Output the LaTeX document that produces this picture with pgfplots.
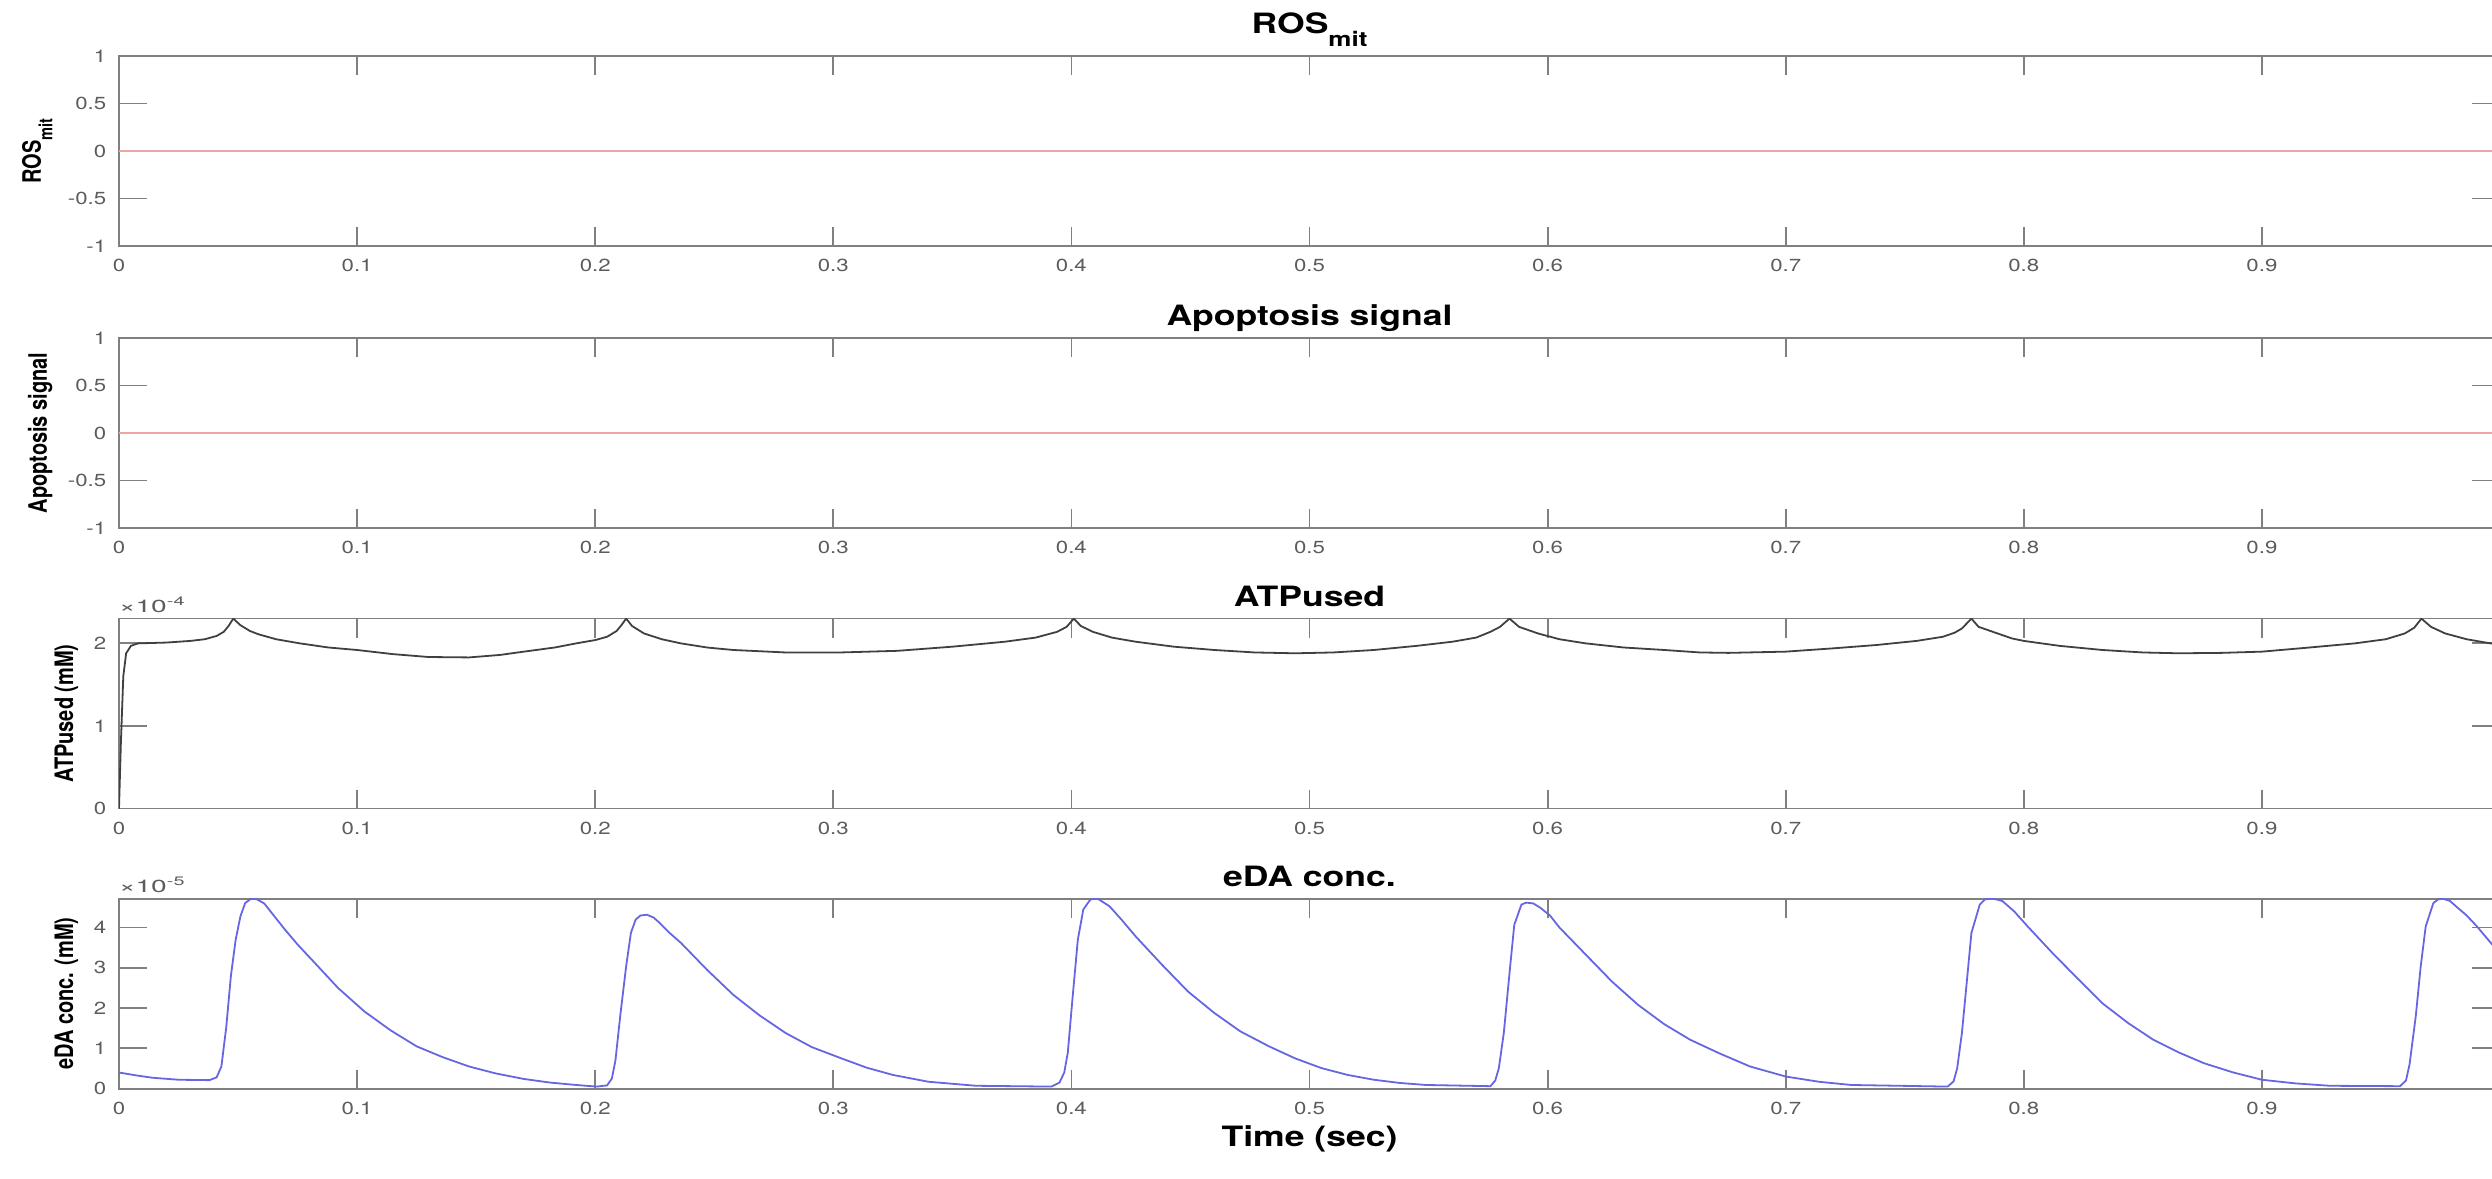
\documentclass[border=0pt]{standalone}
\usepackage{pgfplots}
\usepackage{pgfplotstable}
\pgfplotsset{compat=1.18}
\usepackage{fontspec}
\usepackage{graphicx}
\setmainfont{TeX Gyre Heros}

\definecolor{axisgray}{gray}{0.5}
\definecolor{labelgray}{gray}{0.36}
\definecolor{rosred}{rgb}{0.94,0.64,0.64}
\definecolor{edablue}{rgb}{0.40,0.40,0.90}
\definecolor{atpblack}{gray}{0.25}

% lettering is set a little wide
\newcommand\hs[1]{\scalebox{1.27}[1]{#1}}
\newcommand\vs[1]{\scalebox{1}[1.27]{#1}}
\newcommand\lowsub[1]{\raisebox{-0.45em}{\scalebox{0.73}{#1}}}

% ATP used (mM)
\pgfplotstableread{
t      atp
0      0
0.0008 0.8e-4
0.0018 1.6e-4
0.003  1.88e-4
0.005  1.97e-4
0.008  2.0e-4
0.02   2.01e-4
0.03   2.03e-4
0.036  2.05e-4
0.041  2.09e-4
0.044  2.14e-4
0.046  2.21e-4
0.048  2.30e-4
0.051  2.22e-4
0.055  2.15e-4
0.0586 2.11e-4
0.066  2.05e-4
0.076  2.0e-4
0.088  1.95e-4
0.1    1.92e-4
0.115  1.87e-4
0.13   1.835e-4
0.147  1.83e-4
0.16   1.86e-4
0.17   1.90e-4
0.183  1.95e-4
0.192  2.0e-4
0.2    2.04e-4
0.205  2.08e-4
0.209  2.15e-4
0.211  2.22e-4
0.213  2.30e-4
0.2155 2.21e-4
0.2205 2.12e-4
0.228  2.05e-4
0.236  2.0e-4
0.247  1.95e-4
0.258  1.92e-4
0.28   1.89e-4
0.303  1.89e-4
0.327  1.91e-4
0.35   1.96e-4
0.372  2.02e-4
0.385  2.07e-4
0.394  2.14e-4
0.398  2.2e-4
0.401  2.30e-4
0.404  2.21e-4
0.409  2.14e-4
0.417  2.07e-4
0.427  2.02e-4
0.443  1.96e-4
0.46   1.92e-4
0.477  1.89e-4
0.494  1.88e-4
0.51   1.89e-4
0.527  1.92e-4
0.545  1.97e-4
0.56   2.02e-4
0.57   2.07e-4
0.576  2.14e-4
0.58   2.2e-4
0.584  2.30e-4
0.588  2.2e-4
0.596  2.12e-4
0.605  2.05e-4
0.616  2.0e-4
0.632  1.95e-4
0.649  1.92e-4
0.664  1.89e-4
0.676  1.885e-4
0.7    1.90e-4
0.72   1.94e-4
0.738  1.98e-4
0.755  2.03e-4
0.766  2.08e-4
0.771  2.13e-4
0.774  2.18e-4
0.778  2.30e-4
0.781  2.2e-4
0.787  2.14e-4
0.795  2.06e-4
0.8    2.03e-4
0.815  1.97e-4
0.833  1.92e-4
0.85   1.89e-4
0.865  1.88e-4
0.883  1.885e-4
0.9    1.90e-4
0.92   1.95e-4
0.939  2.0e-4
0.952  2.05e-4
0.96   2.12e-4
0.964  2.19e-4
0.967  2.30e-4
0.971  2.2e-4
0.977  2.12e-4
0.986  2.05e-4
0.996  2.0e-4
1.0    1.99e-4
}\atptable

% extracellular dopamine (mM)
\pgfplotstableread{
t      eda
0      0.40e-5
0.007  0.33e-5
0.014  0.27e-5
0.025  0.22e-5
0.038  0.21e-5
0.041  0.28e-5
0.043  0.55e-5
0.045  1.5e-5
0.047  2.8e-5
0.049  3.7e-5
0.051  4.28e-5
0.053  4.61e-5
0.0555 4.72e-5
0.058  4.70e-5
0.061  4.60e-5
0.065  4.30e-5
0.0697 3.95e-5
0.075  3.58e-5
0.081  3.2e-5
0.092  2.5e-5
0.103  1.92e-5
0.114  1.45e-5
0.125  1.05e-5
0.136  0.78e-5
0.147  0.55e-5
0.158  0.38e-5
0.17   0.24e-5
0.181  0.15e-5
0.192  0.09e-5
0.2006 0.05e-5
0.205  0.08e-5
0.207  0.25e-5
0.2085 0.7e-5
0.2105 1.8e-5
0.213  3.04e-5
0.215  3.87e-5
0.217  4.2e-5
0.219  4.3e-5
0.2217 4.32e-5
0.2245 4.25e-5
0.227  4.12e-5
0.231  3.88e-5
0.236  3.62e-5
0.247  2.95e-5
0.258  2.33e-5
0.269  1.82e-5
0.28   1.38e-5
0.291  1.03e-5
0.303  0.76e-5
0.314  0.52e-5
0.325  0.34e-5
0.34   0.17e-5
0.36   0.07e-5
0.3916 0.05e-5
0.395  0.15e-5
0.397  0.4e-5
0.3985 0.9e-5
0.4004 2.2e-5
0.4027 3.7e-5
0.405  4.45e-5
0.408  4.70e-5
0.411  4.72e-5
0.416  4.53e-5
0.421  4.2e-5
0.427  3.78e-5
0.438  3.08e-5
0.449  2.41e-5
0.46   1.88e-5
0.471  1.42e-5
0.483  1.05e-5
0.494  0.75e-5
0.505  0.51e-5
0.516  0.34e-5
0.527  0.22e-5
0.538  0.14e-5
0.549  0.09e-5
0.576  0.06e-5
0.578  0.2e-5
0.5795 0.5e-5
0.5816 1.38e-5
0.584  2.87e-5
0.586  4.07e-5
0.589  4.57e-5
0.591  4.62e-5
0.594  4.6e-5
0.597  4.49e-5
0.601  4.3e-5
0.605  4.0e-5
0.616  3.33e-5
0.627  2.66e-5
0.638  2.08e-5
0.649  1.6e-5
0.66   1.21e-5
0.672  0.88e-5
0.685  0.55e-5
0.7    0.30e-5
0.714  0.17e-5
0.7275 0.09e-5
0.768  0.05e-5
0.7705 0.18e-5
0.772  0.5e-5
0.774  1.38e-5
0.776  2.62e-5
0.778  3.87e-5
0.7815 4.57e-5
0.7837 4.70e-5
0.7857 4.72e-5
0.7885 4.70e-5
0.791  4.66e-5
0.796  4.40e-5
0.8016 4.03e-5
0.812  3.37e-5
0.823  2.71e-5
0.833  2.12e-5
0.844  1.62e-5
0.8545 1.21e-5
0.865  0.9e-5
0.8757 0.63e-5
0.888  0.40e-5
0.9    0.22e-5
0.914  0.13e-5
0.9286 0.07e-5
0.958  0.06e-5
0.9605 0.2e-5
0.962  0.6e-5
0.9646 1.79e-5
0.9667 3.04e-5
0.9688 4.03e-5
0.972  4.61e-5
0.974  4.70e-5
0.976  4.72e-5
0.979  4.66e-5
0.9815 4.53e-5
0.986  4.3e-5
0.99   4.05e-5
0.995  3.7e-5
1.0    3.35e-5
}\edatable

\pgfplotsset{
  panel/.style={
    scale only axis,
    width=1190.5pt, height=95pt,
    anchor=south west,
    xmin=0, xmax=1,
    xtick={0,0.1,0.2,0.3,0.4,0.5,0.6,0.7,0.8,0.9,1},
    xticklabels={0,0.1,0.2,0.3,0.4,0.5,0.6,0.7,0.8,0.9,{}},
    tick align=inside,
    axis line style={axisgray, line width=0.9pt},
    every tick/.style={axisgray, line width=0.9pt},
    xtick style={/pgfplots/major tick length=9.5pt},
    ytick style={/pgfplots/major tick length=14pt},
    /pgf/number format/assume math mode=true,
    tick label style={font=\fontsize{8.75}{10}\selectfont, text=labelgray, xscale=1.27},
    xticklabel style={yshift=-3pt},
    yticklabel style={xshift=-1.5pt},
    ylabel style={font=\fontsize{10}{12}\selectfont\bfseries, text=black},
    title style={at={(0.5,1)}, anchor=base, yshift=0pt,
      font=\fontsize{14}{16}\selectfont\bfseries},
    every y tick scale label/.style={at={(rel axis cs:0,1)}, anchor=south west,
      inner sep=1pt, yshift=1.5pt, font=\fontsize{8.75}{10}\selectfont,
      text=labelgray, xscale=1.27},
    ytick scale label code/.code={×10\textsuperscript{##1}},
  },
}

\begin{document}
\begin{tikzpicture}
% ROS in the mitochondria
\begin{axis}[panel, at={(59.5pt,466pt)},
  ymin=-1, ymax=1, ytick={-1,-0.5,0,0.5,1},
  title={\hs{ROS\lowsub{mit}}}, title style={yshift=5pt},
  ylabel={\vs{ROS\lowsub{mit}}}]
\addplot[rosred, line width=0.8pt] coordinates {(0,0) (1,0)};
\end{axis}

% apoptosis signal
\begin{axis}[panel, at={(59.5pt,325pt)},
  ymin=-1, ymax=1, ytick={-1,-0.5,0,0.5,1},
  title={\hs{Apoptosis signal}},
  ylabel={\vs{Apoptosis signal}}]
\addplot[rosred, line width=0.8pt] coordinates {(0,0) (1,0)};
\end{axis}

% ATP used
\begin{axis}[panel, at={(59.5pt,184.7pt)},
  ymin=0, ymax=2.30e-4, ytick={0,1e-4,2e-4},
  scaled y ticks=base 10:4,
  title={\hs{ATPused}},
  ylabel={\vs{ATPused (mM)}}]
\addplot[atpblack, line width=0.9pt] table[x=t, y=atp] {\atptable};
\end{axis}

% extracellular dopamine
\begin{axis}[panel, at={(59.5pt,44.7pt)},
  ymin=0, ymax=4.72e-5, ytick={0,1e-5,2e-5,3e-5,4e-5},
  scaled y ticks=base 10:5,
  title={\hs{eDA conc.}},
  ylabel={\vs{eDA conc. (mM)}},
  xlabel={\hs{Time (sec)}},
  xlabel style={at={(rel axis cs:0.5,0)}, anchor=base, yshift=-29pt,
    font=\fontsize{14}{16}\selectfont\bfseries}]
\addplot[edablue, line width=0.9pt] table[x=t, y=eda] {\edatable};
\end{axis}

\pgfresetboundingbox
\useasboundingbox (0,0) rectangle (1246pt,589pt);
\end{tikzpicture}
\end{document}
